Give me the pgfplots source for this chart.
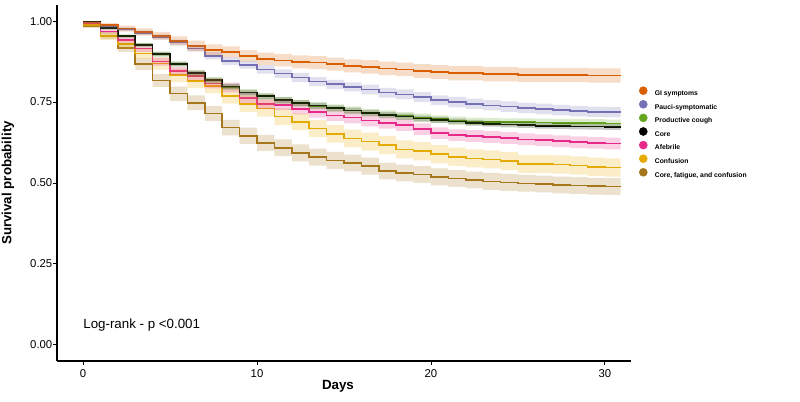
\documentclass[border=0pt]{standalone}
\usepackage{fontspec}
\setmainfont{Liberation Sans}
\usepackage{pgfplots}
\usepackage{pgfplotstable}
\pgfplotsset{compat=1.18}

\definecolor{cGI}{HTML}{D95F02}
\definecolor{cPauci}{HTML}{7570B3}
\definecolor{cProd}{HTML}{66A61E}
\definecolor{cCore}{HTML}{000000}
\definecolor{cAfeb}{HTML}{E7298A}
\definecolor{cConf}{HTML}{E6AB02}
\definecolor{cCFC}{HTML}{A6761D}

% t = day, s = survival estimate, h = half width of the band
\pgfplotstableread{
t s h
0 0.996 0.004
1 0.988 0.006
2 0.977 0.009
3 0.967 0.011
4 0.955 0.012
5 0.939 0.014
6 0.924 0.016
7 0.911 0.017
8 0.905 0.017
9 0.893 0.018
10 0.884 0.019
11 0.879 0.019
12 0.874 0.020
13 0.872 0.020
14 0.867 0.020
15 0.862 0.020
16 0.859 0.021
17 0.854 0.021
18 0.851 0.021
19 0.846 0.021
20 0.843 0.021
21 0.839 0.022
22 0.839 0.022
23 0.836 0.022
24 0.836 0.022
25 0.834 0.022
26 0.834 0.022
27 0.834 0.022
28 0.834 0.022
29 0.832 0.022
30 0.832 0.022
30.9 0.832 0.022
}\tGI

\pgfplotstableread{
t s h
0 0.996 0.002
1 0.983 0.005
2 0.975 0.006
3 0.964 0.007
4 0.951 0.008
5 0.934 0.009
6 0.916 0.010
7 0.893 0.011
8 0.877 0.012
9 0.865 0.012
10 0.851 0.013
11 0.838 0.013
12 0.826 0.014
13 0.813 0.014
14 0.805 0.014
15 0.797 0.014
16 0.789 0.015
17 0.779 0.015
18 0.774 0.015
19 0.766 0.015
20 0.756 0.015
21 0.750 0.016
22 0.745 0.016
23 0.740 0.016
24 0.736 0.016
25 0.732 0.016
26 0.729 0.016
27 0.725 0.016
28 0.722 0.016
29 0.720 0.016
30 0.719 0.016
30.9 0.719 0.016
}\tPauci

\pgfplotstableread{
t s h
0 0.997 0.002
1 0.977 0.004
2 0.953 0.006
3 0.926 0.007
4 0.898 0.008
5 0.867 0.009
6 0.839 0.010
7 0.817 0.010
8 0.797 0.010
9 0.779 0.011
10 0.767 0.011
11 0.755 0.011
12 0.746 0.011
13 0.738 0.011
14 0.731 0.012
15 0.724 0.012
16 0.717 0.012
17 0.712 0.012
18 0.707 0.012
19 0.702 0.012
20 0.697 0.012
21 0.693 0.012
22 0.690 0.012
23 0.689 0.012
24 0.688 0.012
25 0.688 0.012
26 0.687 0.012
27 0.686 0.012
28 0.686 0.012
29 0.685 0.012
30 0.684 0.012
30.9 0.684 0.012
}\tProd

\pgfplotstableread{
t s h
0 0.998 0.001
1 0.978 0.003
2 0.954 0.004
3 0.927 0.005
4 0.899 0.006
5 0.868 0.006
6 0.840 0.007
7 0.818 0.007
8 0.798 0.008
9 0.780 0.008
10 0.768 0.008
11 0.756 0.009
12 0.747 0.009
13 0.739 0.009
14 0.731 0.009
15 0.724 0.009
16 0.717 0.009
17 0.711 0.009
18 0.705 0.009
19 0.699 0.009
20 0.695 0.009
21 0.690 0.009
22 0.686 0.009
23 0.683 0.009
24 0.681 0.009
25 0.679 0.009
26 0.677 0.009
27 0.676 0.009
28 0.675 0.009
29 0.674 0.009
30 0.673 0.009
30.9 0.673 0.009
}\tCore

\pgfplotstableread{
t s h
0 0.993 0.003
1 0.968 0.006
2 0.942 0.009
3 0.915 0.010
4 0.875 0.012
5 0.846 0.013
6 0.831 0.014
7 0.807 0.015
8 0.795 0.015
9 0.763 0.016
10 0.745 0.016
11 0.741 0.016
12 0.728 0.016
13 0.719 0.017
14 0.709 0.017
15 0.702 0.018
16 0.693 0.018
17 0.686 0.018
18 0.679 0.018
19 0.666 0.018
20 0.654 0.018
21 0.648 0.018
22 0.645 0.018
23 0.642 0.018
24 0.639 0.018
25 0.635 0.018
26 0.632 0.018
27 0.629 0.018
28 0.626 0.018
29 0.624 0.018
30 0.622 0.018
30.9 0.622 0.018
}\tAfeb

\pgfplotstableread{
t s h
0 0.989 0.006
1 0.955 0.012
2 0.929 0.014
3 0.900 0.017
4 0.869 0.019
5 0.833 0.021
6 0.815 0.022
7 0.800 0.022
8 0.769 0.024
9 0.744 0.025
10 0.730 0.025
11 0.705 0.026
12 0.689 0.026
13 0.668 0.026
14 0.652 0.027
15 0.638 0.027
16 0.628 0.028
17 0.617 0.028
18 0.604 0.028
19 0.598 0.028
20 0.589 0.028
21 0.581 0.028
22 0.576 0.028
23 0.573 0.028
24 0.568 0.028
25 0.559 0.028
26 0.559 0.028
27 0.557 0.028
28 0.554 0.028
29 0.550 0.028
30 0.548 0.028
30.9 0.548 0.028
}\tConf

\pgfplotstableread{
t s h
0 0.985 0.006
1 0.955 0.011
2 0.918 0.014
3 0.867 0.018
4 0.817 0.020
5 0.776 0.022
6 0.748 0.023
7 0.715 0.023
8 0.671 0.024
9 0.646 0.025
10 0.624 0.025
11 0.609 0.026
12 0.593 0.026
13 0.580 0.026
14 0.570 0.026
15 0.562 0.026
16 0.552 0.026
17 0.537 0.026
18 0.531 0.026
19 0.526 0.026
20 0.519 0.026
21 0.514 0.026
22 0.509 0.026
23 0.505 0.026
24 0.502 0.026
25 0.499 0.026
26 0.497 0.026
27 0.494 0.026
28 0.492 0.026
29 0.490 0.026
30 0.489 0.026
30.9 0.489 0.026
}\tCFC

% band: lower edge, then 2h stacked on it and filled down to it,
% then take the stack back to zero
\newcommand{\kmband}[2]{%
  \addplot[draw=none, const plot, forget plot]
    table[x=t, y expr=\thisrow{s}-\thisrow{h}] {#1};
  \addplot[fill=#2, fill opacity=0.22, draw=none, const plot, forget plot]
    table[x=t, y expr=2*\thisrow{h}] {#1} \closedcycle;
  \addplot[draw=none, const plot, forget plot]
    table[x=t, y expr=-\thisrow{s}-\thisrow{h}] {#1};
}
\newcommand{\kmline}[2]{%
  \addplot[#2, line width=1.2pt, const plot, stack plots=false, forget plot]
    table[x=t, y=s] {#1};
}

\begin{document}
\begin{tikzpicture}
\path[use as bounding box] (0,0) rectangle (600pt,301.5pt);
\begin{axis}[
    at={(42.75pt,30.75pt)}, anchor=south west,
    scale only axis,
    width=430.5pt, height=267pt,
    xmin=-1.5, xmax=31.5,
    ymin=-0.05, ymax=1.05,
    stack plots=y,
    axis lines=left,
    axis line style={-, line width=0.8pt, black},
    tick align=outside,
    major tick length=3pt,
    tick style={black, line width=0.7pt},
    xtick={0,10,20,30}, xticklabels={0,10,20,30},
    ytick={0,0.25,0.5,0.75,1}, yticklabels={0.00,0.25,0.50,0.75,1.00},
    ticklabel style={font=\fontsize{8.5}{10}\selectfont, black},
    yticklabel style={xshift=3pt},
    xlabel={Days}, ylabel={Survival probability},
    label style={font=\bfseries\fontsize{10}{12}\selectfont},
    xlabel style={at={(axis description cs:0.4895,-0.0702)}, anchor=center},
    ylabel style={at={(axis description cs:-0.0854,0.5)}, anchor=center},
    legend image code/.code={\fill[#1] (3pt,1.8pt) circle (3pt);},
    legend style={at={(axis description cs:1.0135,0.772)}, anchor=north west,
      draw=none, fill=none, inner sep=0pt,
      font=\bfseries\fontsize{5.1}{6}\selectfont,
      nodes={inner sep=0pt, text height=4.8pt, text depth=1.2pt},
      row sep=2.2pt},
    legend cell align=left,
]
\kmband{\tGI}{cGI}
\kmband{\tPauci}{cPauci}
\kmband{\tProd}{cProd}
\kmband{\tCore}{cCore}
\kmband{\tAfeb}{cAfeb}
\kmband{\tConf}{cConf}
\kmband{\tCFC}{cCFC}

\kmline{\tGI}{cGI}
\kmline{\tPauci}{cPauci}
\kmline{\tCore}{cCore}
\kmline{\tProd}{cProd}
\kmline{\tAfeb}{cAfeb}
\kmline{\tConf}{cConf}
\kmline{\tCFC}{cCFC}

\addlegendimage{cGI}\addlegendentry{\hspace{5.5pt}GI symptoms}
\addlegendimage{cPauci}\addlegendentry{\hspace{5.5pt}Pauci-symptomatic}
\addlegendimage{cProd}\addlegendentry{\hspace{5.5pt}Productive cough}
\addlegendimage{cCore}\addlegendentry{\hspace{5.5pt}Core}
\addlegendimage{cAfeb}\addlegendentry{\hspace{5.5pt}Afebrile}
\addlegendimage{cConf}\addlegendentry{\hspace{5.5pt}Confusion}
\addlegendimage{cCFC}\addlegendentry{\hspace{5.5pt}Core, fatigue, and confusion}

\node[anchor=west, font=\fontsize{10}{12}\selectfont, inner sep=0pt]
  at (axis cs:0,0.062) {Log-rank - p <0.001};
\end{axis}
\end{tikzpicture}
\end{document}
